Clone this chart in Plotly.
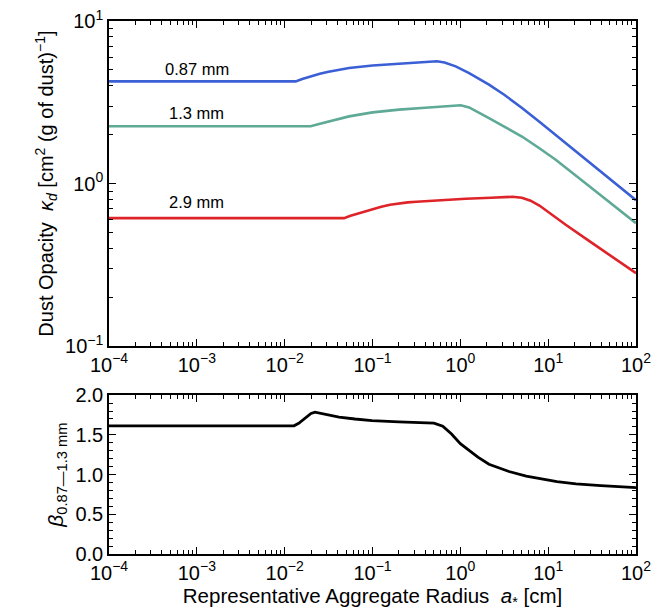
import numpy as np
import plotly.graph_objects as go
from plotly.subplots import make_subplots

# log10(a) [cm] sample points and kappa values
la_087 = [-4.0, -1.874, -1.8, -1.7, -1.6, -1.5, -1.4, -1.267, -1.0, -0.698, -0.5, -0.35, -0.266,
          -0.18, -0.053, 0.1, 0.326, 0.5, 0.706, 0.9, 1.086, 1.465, 2.0]
k_087 = [4.25, 4.25, 4.40, 4.58, 4.74, 4.88, 5.00, 5.14, 5.32, 5.46, 5.56, 5.63, 5.65,
         5.55, 5.26, 4.78, 4.06, 3.52, 2.91, 2.40, 1.99, 1.34, 0.79]

la_13 = [-4.0, -1.703, -1.62, -1.54, -1.457, -1.35, -1.267, -1.0, -0.698, -0.4, -0.15, 0.004,
         0.1, 0.2, 0.326, 0.5, 0.706, 0.9, 1.086, 1.465, 2.0]
k_13 = [2.25, 2.25, 2.32, 2.38, 2.43, 2.52, 2.59, 2.74, 2.85, 2.93, 2.99, 3.03,
        2.94, 2.76, 2.53, 2.24, 1.94, 1.65, 1.40, 0.966, 0.571]

la_29 = [-4.0, -1.324, -1.25, -1.16, -1.077, -0.9, -0.8, -0.698, -0.6, -0.5, -0.322, 0.061, 0.35,
         0.592, 0.7, 0.8, 0.9, 1.0, 1.2, 1.465, 1.75, 2.0]
k_29 = [0.613, 0.613, 0.633, 0.655, 0.675, 0.719, 0.741, 0.755, 0.766, 0.773, 0.784, 0.806, 0.818,
        0.829, 0.818, 0.785, 0.733, 0.668, 0.558, 0.444, 0.348, 0.281]

la_beta = [-4.0, -1.894, -1.84, -1.77, -1.70, -1.655, -1.5, -1.381, -1.2, -1.006, -0.7, -0.4,
           -0.3, -0.2, -0.1, 0.0, 0.1, 0.2, 0.326, 0.45, 0.554, 0.75, 0.93, 1.1, 1.317, 1.6, 2.0]
beta = [1.614, 1.614, 1.645, 1.71, 1.77, 1.787, 1.755, 1.724, 1.70, 1.68, 1.665, 1.656,
        1.648, 1.61, 1.51, 1.39, 1.30, 1.22, 1.13, 1.08, 1.039, 0.98, 0.946, 0.91, 0.883, 0.86, 0.837]

labels = ["0.87 mm", "1.3 mm", "2.9 mm"]
label_y = [5.07, 2.72, 0.77]
colors = ["#3b5fd4", "#5eaa96", "#df2429"]

x_tickvals = [1e-4, 1e-3, 1e-2, 1e-1, 1, 10, 100]
x_ticktext = ["10<sup>−4</sup>", "10<sup>−3</sup>", "10<sup>−2</sup>", "10<sup>−1</sup>",
              "10<sup>0</sup>", "10<sup>1</sup>", "10<sup>2</sup>"]
y_tickvals = [0.1, 1, 10]
y_ticktext = ["10<sup>−1</sup>", "10<sup>0</sup>", "10<sup>1</sup>"]
b_tickvals = [0.0, 0.5, 1.0, 1.5, 2.0]
b_ticktext = ["0.0", "0.5", "1.0", "1.5", "2.0"]

FONT = "Liberation Sans, Arial, Helvetica, sans-serif"

minor_x = [m * 10.0 ** e for e in range(-4, 2) for m in range(2, 10)]
minor_y = [m * 10.0 ** e for e in range(-1, 1) for m in range(2, 10)]

fig = make_subplots(rows=2, cols=1)

for la, k, c in [(la_087, k_087, colors[0]), (la_13, k_13, colors[1]), (la_29, k_29, colors[2])]:
    fig.add_trace(go.Scatter(x=10 ** np.array(la), y=k, mode="lines",
                             line=dict(color=c, width=2.6),
                             showlegend=False), row=1, col=1)

fig.add_trace(go.Scatter(x=10 ** np.array(la_beta), y=beta, mode="lines",
                         line=dict(color="black", width=2.8),
                         showlegend=False), row=2, col=1)

for t, yv in zip(labels, label_y):
    fig.add_annotation(x=-3.0, y=np.log10(yv), xref="x", yref="y", text=t,
                       showarrow=False, font=dict(size=16.5, color="black", family=FONT))

axis_common = dict(showline=True, linecolor="black", linewidth=1.5, mirror="ticks",
                   ticks="inside", ticklen=7, tickwidth=1.3, tickcolor="black",
                   showgrid=False, zeroline=False, automargin=False,
                   ticklabeloverflow="allow",
                   tickfont=dict(size=20, color="black", family=FONT))

fig.update_xaxes(type="log", range=[-4, 2], tickmode="array", tickvals=x_tickvals, ticktext=x_ticktext,
                 minor=dict(ticks="inside", ticklen=4, tickcolor="black", tickwidth=1, showgrid=False,
                            tickmode="array", tickvals=minor_x),
                 **axis_common)
fig.update_yaxes(type="log", range=[-1.0001, 1.0001], tickmode="array", tickvals=y_tickvals, ticktext=y_ticktext,
                 minor=dict(ticks="inside", ticklen=4, tickcolor="black", tickwidth=1, showgrid=False,
                            tickmode="array", tickvals=minor_y),
                 domain=[0.39, 1.0], row=1, col=1, **axis_common)
fig.update_yaxes(range=[0, 2.0001], tickmode="array", tickvals=b_tickvals, ticktext=b_ticktext,
                 minor=dict(ticks="inside", ticklen=4, dtick=0.1, tickcolor="black", tickwidth=1, showgrid=False),
                 domain=[0.0, 0.298], row=2, col=1, **axis_common)

fig.update_yaxes(title=dict(text="Dust Opacity  <i>κ<sub>d</sub></i> [cm<sup>2</sup> (g of dust)<sup>−1</sup>]",
                            font=dict(size=20, color="black", family=FONT), standoff=6), row=1, col=1)
fig.update_yaxes(title=dict(text="<i>β</i><sub>0.87—1.3 mm</sub>",
                            font=dict(size=21, color="black", family=FONT), standoff=6), row=2, col=1)
fig.update_xaxes(title=dict(text="Representative Aggregate Radius  <i>a</i><sub>*</sub> [cm]",
                            font=dict(size=20.5, color="black", family=FONT), standoff=6), row=2, col=1)

fig.update_layout(width=671, height=614, margin=dict(l=101, r=43, t=13, b=68),
                  plot_bgcolor="white", paper_bgcolor="white",
                  font=dict(family=FONT, color="black"))

fig.write_html("out.html")
